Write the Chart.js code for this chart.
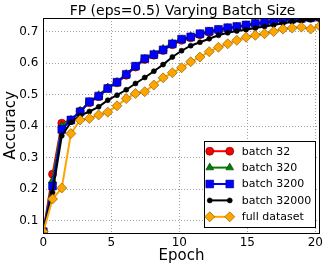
<!DOCTYPE html>
<html>
<head>
<meta charset="utf-8">
<script src="https://cdn.jsdelivr.net/npm/chart.js@4.4.1/dist/chart.umd.min.js"></script>
<style>
html,body{margin:0;padding:0;background:#fff;}
canvas{display:block;}
</style>
</head>
<body>
<canvas id="c" width="326" height="270"></canvas>
<script>
const title = "FP (eps=0.5) Varying Batch Size";
const xLabel = "Epoch";
const yLabel = "Accuracy";
const xTicks = [0, 5, 10, 15, 20];
const yTicks = [0.1, 0.2, 0.3, 0.4, 0.5, 0.6, 0.7];
const epochs = [0, 0.68, 1.36, 2.03, 2.71, 3.39, 4.07, 4.74, 5.42, 6.1, 6.78, 7.46, 8.13, 8.81, 9.49, 10.17, 10.84, 11.52, 12.2, 12.88, 13.56, 14.23, 14.91, 15.59, 16.27, 16.94, 17.62, 18.3, 18.98, 19.66, 20.33];
const seriesNames = ["batch 32", "batch 320", "batch 3200", "batch 32000", "full dataset"];
const batch32 = [0.065, 0.248, 0.41, 0.418, 0.448, 0.475, 0.494, 0.521, 0.538, 0.562, 0.588, 0.612, 0.626, 0.641, 0.659, 0.673, 0.681, 0.691, 0.699, 0.705, 0.711, 0.715, 0.72, 0.725, 0.729, 0.733, 0.736, 0.739, 0.741, 0.743, 0.745];
const batch320 = [0.065, 0.228, 0.402, 0.421, 0.449, 0.477, 0.499, 0.523, 0.541, 0.566, 0.59, 0.614, 0.63, 0.646, 0.664, 0.675, 0.686, 0.693, 0.701, 0.707, 0.712, 0.716, 0.721, 0.726, 0.73, 0.734, 0.737, 0.74, 0.742, 0.744, 0.746];
const batch3200 = [0.065, 0.21, 0.39, 0.42, 0.446, 0.478, 0.496, 0.52, 0.54, 0.565, 0.591, 0.615, 0.628, 0.643, 0.662, 0.677, 0.684, 0.694, 0.702, 0.708, 0.713, 0.717, 0.722, 0.727, 0.731, 0.735, 0.738, 0.741, 0.743, 0.745, 0.747];
const batch32000 = [0.065, 0.19, 0.37, 0.413, 0.434, 0.447, 0.462, 0.483, 0.499, 0.516, 0.536, 0.555, 0.575, 0.596, 0.62, 0.64, 0.656, 0.667, 0.678, 0.689, 0.697, 0.703, 0.707, 0.712, 0.717, 0.722, 0.727, 0.732, 0.736, 0.739, 0.741];
const fullData = [0.065, 0.169, 0.204, 0.377, 0.42, 0.425, 0.436, 0.445, 0.465, 0.488, 0.504, 0.51, 0.531, 0.554, 0.57, 0.586, 0.605, 0.62, 0.637, 0.651, 0.662, 0.673, 0.683, 0.689, 0.694, 0.701, 0.709, 0.712, 0.715, 0.709, 0.718];

const FONT = "'DejaVu Sans', sans-serif";
const styles = [
  {color: '#ff0000', point: 'circle', radius: 4, edge: '#550000'},
  {color: '#008000', point: 'triangle', radius: 4.5, edge: '#003000'},
  {color: '#0000ff', point: 'rect', radius: 5.5, edge: '#000060'},
  {color: '#000000', point: 'circle', radius: 2.5, edge: '#000000'},
  {color: '#ffa500', point: 'rectRot', radius: 5, edge: '#7a4f00'}
];
const allSeries = [batch32, batch320, batch3200, batch32000, fullData];

const datasets = allSeries.map((vals, k) => ({
  label: seriesNames[k],
  data: epochs.map((e, i) => ({x: e, y: vals[i]})),
  order: allSeries.length - k,
  borderColor: styles[k].color,
  backgroundColor: styles[k].color,
  borderWidth: 2,
  pointStyle: styles[k].point,
  pointRadius: styles[k].radius,
  pointBackgroundColor: styles[k].color,
  pointBorderColor: styles[k].edge,
  pointBorderWidth: 0.6,
  pointHoverRadius: styles[k].radius,
  tension: 0,
  clip: 0
}));

const framePlugin = {
  id: 'frame',
  afterDraw(chart) {
    const ctx = chart.ctx;
    const a = chart.chartArea;
    ctx.save();
    ctx.strokeStyle = '#000';
    ctx.lineWidth = 1;
    ctx.strokeRect(Math.round(a.left) + 0.5, Math.round(a.top) + 0.5, Math.round(a.right - a.left), Math.round(a.bottom - a.top));
    ctx.fillStyle = '#000';
    ctx.font = "14px " + FONT;
    ctx.textAlign = 'center';
    ctx.textBaseline = 'alphabetic';
    ctx.fillText(title, (a.left + a.right) / 2 + 1, 15);
    const w = 111, h = 86;
    const bx = a.right - 5 - w, by = a.bottom - 5.5 - h;
    ctx.fillStyle = '#fff';
    ctx.fillRect(bx, by, w, h);
    ctx.strokeStyle = '#000';
    ctx.lineWidth = 1;
    ctx.strokeRect(Math.round(bx) + 0.5, Math.round(by) + 0.5, w, h);
    ctx.font = "11px " + FONT;
    ctx.textAlign = 'left';
    ctx.textBaseline = 'middle';
    for (let k = 0; k < seriesNames.length; k++) {
      const y = by + 10 + k * 16.4;
      const x1 = bx + 6, x2 = bx + 26;
      ctx.strokeStyle = styles[k].color;
      ctx.lineWidth = 2;
      ctx.beginPath();
      ctx.moveTo(x1, y);
      ctx.lineTo(x2, y);
      ctx.stroke();
      ctx.fillStyle = styles[k].color;
      ctx.strokeStyle = styles[k].edge;
      ctx.lineWidth = 0.6;
      const opts = {pointStyle: styles[k].point, radius: styles[k].radius, borderWidth: 0.6, rotation: 0};
      Chart.helpers.drawPoint(ctx, opts, x1, y);
      Chart.helpers.drawPoint(ctx, opts, x2, y);
      ctx.fillStyle = '#000';
      ctx.fillText(seriesNames[k], bx + 38, y + 0.5);
    }
    ctx.restore();
  }
};

new Chart(document.getElementById('c'), {
  type: 'line',
  data: {datasets},
  options: {
    responsive: false,
    animation: false,
    events: [],
    layout: {padding: {top: 18, left: 0, right: 6, bottom: 0}},
    plugins: {legend: {display: false}, title: {display: false}, tooltip: {enabled: false}},
    scales: {
      x: {
        type: 'linear',
        min: 0,
        max: 20.33,
        afterBuildTicks: (s) => { s.ticks = xTicks.map(v => ({value: v})); },
        afterFit: (s) => { s.height = 37.3; },
        ticks: {color: '#000', font: {family: FONT, size: 12}, padding: 3, maxRotation: 0, callback: (v) => String(v)},
        grid: {color: '#a0a0a0', drawTicks: false, lineWidth: 1, borderDash: [1, 2]},
        border: {display: false, dash: [1, 2]},
        title: {display: true, text: xLabel, color: '#000', font: {family: FONT, size: 15}, padding: {top: 0, bottom: 5}}
      },
      y: {
        type: 'linear',
        min: 0.062,
        max: 0.744,
        afterBuildTicks: (s) => { s.ticks = yTicks.map(v => ({value: v})); },
        afterFit: (s) => { s.width = 43.3; },
        ticks: {color: '#000', font: {family: FONT, size: 12}, padding: 5, callback: (v) => v.toFixed(1)},
        grid: {color: '#a0a0a0', drawTicks: false, lineWidth: 1, borderDash: [1, 2]},
        border: {display: false, dash: [1, 2]},
        title: {display: true, text: yLabel, color: '#000', font: {family: FONT, size: 15}, padding: {top: 2, bottom: 0}}
      }
    }
  },
  plugins: [framePlugin]
});
</script>
</body>
</html>
